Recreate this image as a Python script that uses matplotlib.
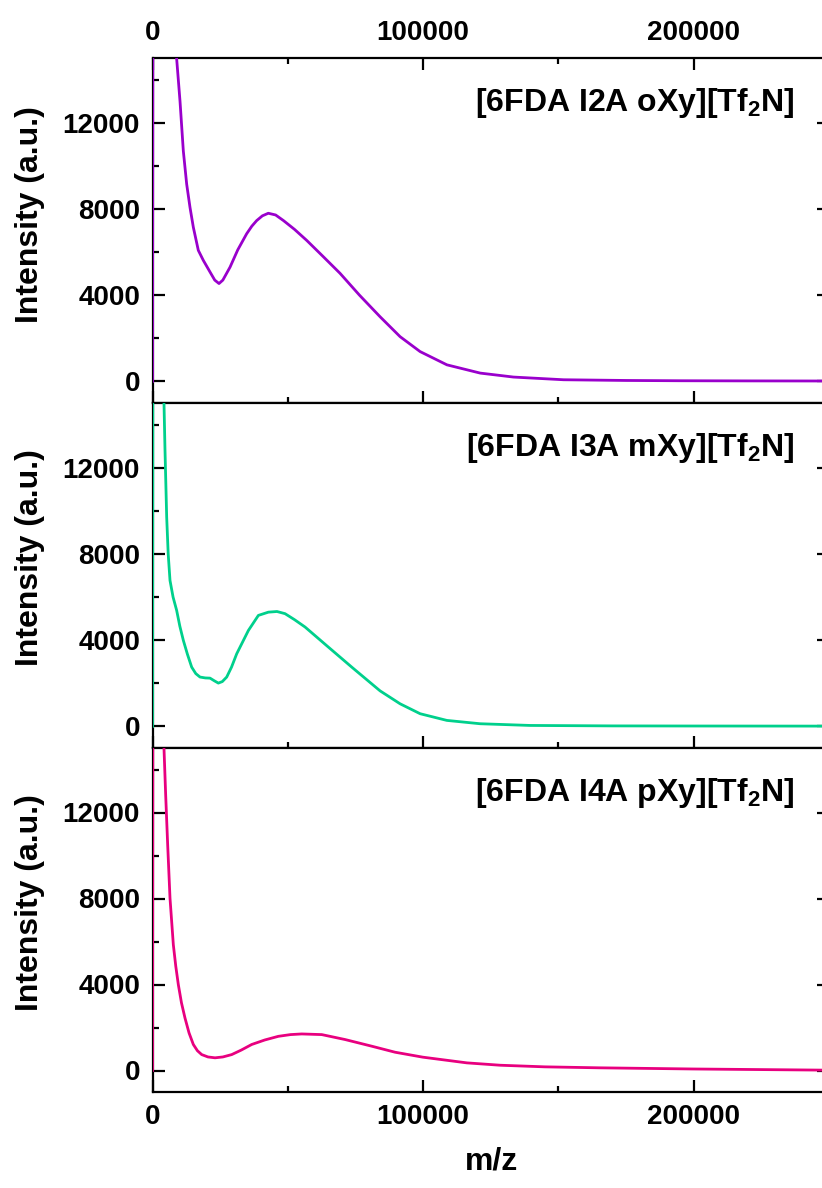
import matplotlib
matplotlib.use('Agg')
import matplotlib.pyplot as plt
from matplotlib.ticker import MultipleLocator

# MALDI-TOF spectra, values
mz_i2a = [0, 300, 7000, 8950, 10170, 11390, 12630, 13860, 15090, 16930, 18780, 21260,
          23000, 24580, 26000, 28650, 31500, 34800, 36700, 38500, 40600,
          42800, 45500, 48400, 52500, 57000, 63000, 69300, 76500, 84100, 91500, 98900, 108800,
          121100, 133400, 151900, 175000, 195000, 220000, 250000]
int_i2a = [0, 40000, 18000, 14930, 12990, 10690, 9150, 8070, 7150, 6080, 5615, 5075,
           4700, 4540, 4700, 5300, 6100, 6850, 7200, 7460, 7680,
           7800, 7720, 7460, 7050, 6540, 5800, 5015, 4000, 3000, 2076, 1384, 770,
           387, 203, 78, 45, 32, 25, 20]

mz_i3a = [0, 300, 3500, 4250, 4620, 5240, 5800, 6470, 7600, 8930, 10100, 11400, 12900, 14480,
          16000, 17560, 19500, 21260, 22800, 24330, 25800, 27420, 29200, 31120, 35430, 39130,
          42820, 46000, 48980, 52500, 56380, 64990, 73640, 84100, 91500, 98900, 108760,
          121070, 139560, 170000, 200000, 250000]
int_i3a = [0, 40000, 17000, 14970, 12810, 9710, 8000, 6770, 6000, 5380, 4650, 3990, 3350, 2750,
           2450, 2290, 2250, 2240, 2120, 2010, 2080, 2290, 2750, 3370, 4450, 5150,
           5300, 5330, 5230, 4950, 4610, 3680, 2750, 1650, 1050, 590, 280,
           125, 46, 25, 20, 15]

mz_i4a = [0, 300, 3700, 4250, 4870, 5610, 6470, 7700, 8600, 9550, 10700, 12010, 13500, 15090,
          16600, 18180, 20500, 23110, 26000, 29270, 32800, 36660, 41500, 46520, 51000, 55150,
          62550, 71170, 81030, 89650, 99900, 116150, 128500, 145000, 165000, 200000, 250000]
int_i4a = [0, 40000, 17000, 14970, 12810, 10490, 8010, 5850, 4850, 3990, 3150, 2440, 1750, 1210,
           920, 740, 630, 590, 630, 740, 950, 1210, 1420, 1590, 1670, 1700,
           1670, 1440, 1130, 850, 620, 355, 245, 170, 125, 70, 15]

series = [
    (mz_i2a, int_i2a, '#9900cc', r'[6FDA I2A oXy][Tf$_\mathbf{2}$N]'),
    (mz_i3a, int_i3a, '#00d08c', r'[6FDA I3A mXy][Tf$_\mathbf{2}$N]'),
    (mz_i4a, int_i4a, '#e8007f', r'[6FDA I4A pXy][Tf$_\mathbf{2}$N]'),
]

plt.rcParams['font.family'] = ['Liberation Sans', 'DejaVu Sans']
plt.rcParams['font.weight'] = 'bold'
plt.rcParams['mathtext.fontset'] = 'custom'
plt.rcParams['mathtext.rm'] = 'Liberation Sans:bold'
plt.rcParams['mathtext.bf'] = 'Liberation Sans:bold'

W, H = 822, 1188
fig = plt.figure(figsize=(W / 100, H / 100), dpi=100)

left, right = 152.5, 829
panel_edges = [(58, 403), (403, 748), (748, 1092)]
label_centers = [215, 558, 903]

for i, ((mz, inten, color, name), (top, bot)) in enumerate(zip(series, panel_edges)):
    ax = fig.add_axes([left / W, 1 - bot / H, (right - left) / W, (bot - top) / H])
    ax.plot(mz, inten, color=color, lw=2.0, zorder=3)
    ax.set_xlim(0, 250000)
    ax.set_ylim(-1000, 15000)

    ax.xaxis.set_major_locator(MultipleLocator(100000))
    ax.xaxis.set_minor_locator(MultipleLocator(50000))
    ax.yaxis.set_major_locator(MultipleLocator(4000))
    ax.yaxis.set_minor_locator(MultipleLocator(2000))

    is_top = i == 0
    is_bottom = i == len(series) - 1
    ax.tick_params(which='both', direction='in', width=1.6, labelsize=20, pad=9,
                   top=is_top, right=True,
                   labeltop=is_top, labelbottom=is_bottom)
    ax.tick_params(which='major', length=8.8)
    ax.tick_params(which='minor', length=4.6)
    for sp in ax.spines.values():
        sp.set_linewidth(1.6)

    ax.text(0.9497, 0.845, name, transform=ax.transAxes, ha='right', va='baseline',
            fontsize=23, fontweight='bold')
    fig.text(30 / W, 1 - label_centers[i] / H, 'Intensity (a.u.)', rotation=90,
             ha='center', va='center', fontsize=23, fontweight='bold')

fig.text(491 / W, 1 - 1162 / H, 'm/z', ha='center', va='center', fontsize=23, fontweight='bold')

fig.savefig('out.png', dpi=100)
